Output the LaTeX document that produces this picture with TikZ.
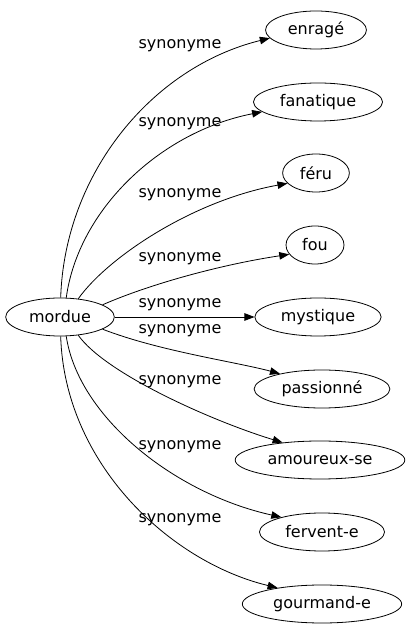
\documentclass[tikz,border=0pt]{standalone}
\usepackage{fontspec}
\setmainfont{DejaVu Sans}
\usetikzlibrary{arrows.meta,shapes.geometric}

\begin{document}
\begin{tikzpicture}[x=1pt, y=1pt,
    word/.style={draw, ellipse, line width=0.8pt, inner xsep=7.5pt, inner ysep=0pt,
      minimum height=38pt, minimum width=58pt, font=\fontsize{16}{19}\selectfont},
    rel/.style={font=\fontsize{16}{19}\selectfont},
    syn/.style={line width=0.8pt, -{Triangle[length=10pt, width=7.5pt]}}]
        \useasboundingbox (0,0) rectangle (406,635);

        \node[word] (mordue) at (60,318) {mordue};
        \node[word] (enrage) at (316,605) {enragé};
        \node[word] (fanatique) at (318,533) {fanatique};
        \node[word] (feru) at (316,462) {féru};
        \node[word] (fou) at (315,390) {fou};
        \node[word] (mystique) at (318,318) {mystique};
        \node[word] (passionne) at (322,246) {passionné};
        \node[word] (amoureux) at (320,175) {amoureux-se};
        \node[word] (fervent) at (322,103) {fervent-e};
        \node[word] (gourmand) at (322,31) {gourmand-e};

        \node[rel] (l1) at (180,589) {synonyme};
        \node[rel] (l2) at (180,511) {synonyme};
        \node[rel] (l3) at (180,440) {synonyme};
        \node[rel] (l4) at (180,376) {synonyme};
        \node[rel] (l5) at (180,330) {synonyme};
        \node[rel] (l6) at (180,304) {synonyme};
        \node[rel] (l7) at (180,253) {synonyme};
        \node[rel] (l8) at (180,188) {synonyme};
        \node[rel] (l9) at (180,115) {synonyme};

        \draw[syn] (mordue.88) .. controls +(4,124) and +(-118,-29) .. (enrage.190);
        \draw[syn] (mordue.72) .. controls +(12,88) and +(-102,-20) .. (fanatique.190);
        \draw[syn] (mordue.45) .. controls +(30,42) and +(-94,-17) .. (feru.200);
        \draw[syn] (mordue.16) .. controls +(48,21) and +(-67,-10) .. (fou.200);
        \draw[syn] (mordue.east) -- (mystique.west);
        \draw[syn] (mordue.-16) .. controls +(57,-22) and +(-45,12) .. (passionne.160);
        \draw[syn] (mordue.-45) .. controls +(27,-38) and +(-72,22) .. (amoureux.155);
        \draw[syn] (mordue.-72) .. controls +(12,-80) and +(-108,24) .. (fervent.160);
        \draw[syn] (mordue.-88) .. controls +(4,-127) and +(-108,26) .. (gourmand.160);
      \end{tikzpicture}
\end{document}
